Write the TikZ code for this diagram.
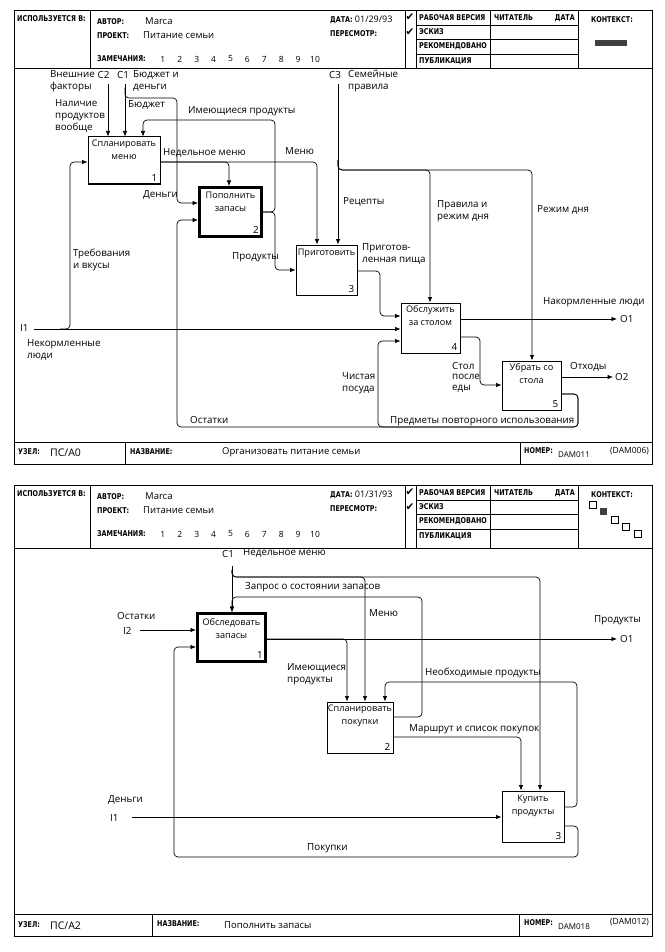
\documentclass[tikz,border=0pt]{standalone}
\usepackage{fontspec}
\setmainfont{Open Sans}
\newfontfamily\hdrfont[FakeStretch=0.8]{DejaVu Sans}
\newfontfamily\symfont{DejaVu Sans}
\usetikzlibrary{arrows.meta}
\tikzset{
  frm/.style={line width=0.8pt},
  box/.style={draw, line width=1pt, inner sep=0pt, fill=white},
  thickbox/.style={box, line width=3pt},
  conn/.style={line width=0.7pt, rounded corners=4pt},
  arr/.style={conn, -{Latex[length=5.5pt,width=4.5pt]}},
  lbl/.style={font=\fontsize{9.8}{12}\selectfont, inner sep=0pt, align=left, anchor=west},
  btxt/.style={font=\fontsize{9.1}{13}\selectfont, inner sep=0pt, align=center, anchor=north},
  bnum/.style={font=\fontsize{9.8}{10}\selectfont, inner sep=0pt, anchor=south east},
  hd/.style={font=\hdrfont\bfseries\fontsize{8}{9}\selectfont, inner sep=0pt, anchor=west},
  mt/.style={font=\fontsize{9.5}{11}\selectfont, inner sep=0pt, anchor=west},
  ck/.style={font=\symfont\fontsize{10.5}{11}\selectfont, inner sep=0pt, anchor=center},
}
% #1 top y, #2 name prefix, #3 date, #4 header height, #5 context drawing
\newcommand\FormHeader[5]{%
\begin{scope}[shift={(0,#1)}]
\draw[frm] (14,#4) -- (652,#4);
\foreach \xx in {90,405,416,490,578} {\draw[frm] (\xx,0) -- (\xx,#4);}
\foreach \yy in {15,29,44} {\draw[frm] (416,\yy) -- (578,\yy);}
\node[hd] (#2use) at (17,9) {ИСПОЛЬЗУЕТСЯ В:};
\node[hd] (#2avt) at (97,12) {АВТОР:};
\node[mt] (#2marca) at (145,11) {Marca};
\node[hd] (#2prj) at (97,26) {ПРОЕКТ:};
\node[mt] (#2pit) at (143,25) {Питание семьи};
\node[hd] (#2zam) at (97,49) {ЗАМЕЧАНИЯ:};
\foreach \i in {1,...,10} {\node[mt,anchor=center,font=\fontsize{8.5}{9}\selectfont] (#2n\i) at ({146+16.9*\i},49) {\i};}
\node[hd] (#2date) at (330,10) {ДАТА: {\normalfont\fontsize{9}{10}\selectfont #3}};
\node[hd] (#2rev) at (330,24) {ПЕРЕСМОТР:};
\node[ck] (#2ck1) at (410,7.5) {✔};
\node[ck] (#2ck2) at (410,22) {✔};
\node[hd] (#2s1) at (419,7.5) {РАБОЧАЯ ВЕРСИЯ};
\node[hd] (#2s2) at (419,22) {ЭСКИЗ};
\node[hd] (#2s3) at (419,36.5) {РЕКОМЕНДОВАНО};
\node[hd] (#2s4) at (419,51) {ПУБЛИКАЦИЯ};
\node[hd] (#2rd) at (494,8) {ЧИТАТЕЛЬ};
\node[hd,anchor=east] (#2rdd) at (575,8) {ДАТА};
\node[hd] (#2ctx) at (591,10) {КОНТЕКСТ:};
#5
\end{scope}}
\begin{document}
\begin{tikzpicture}[x=1pt,y=-1pt]
\useasboundingbox[fill=white] (0,0) rectangle (664,952);

%================ FORM 1 ================
\draw[frm] (14,10) rectangle (652,464);
\FormHeader{10}{fa}{01/29/93}{58}{\fill[black!75] (595,30) rectangle (627,36);}
\draw[frm] (14,442) -- (652,442);
\draw[frm] (125,442) -- (125,464);
\draw[frm] (520,442) -- (520,464);
\node[hd] (fau) at (18,452) {УЗЕЛ:};
\node[mt,font=\fontsize{10.5}{12}\selectfont] (fan) at (50,453) {ПС/А0};
\node[hd] (fat) at (130,452) {НАЗВАНИЕ:};
\node[mt] (fatt) at (222,452) {Организовать питание семьи};
\node[hd] (fanr) at (524,451) {НОМЕР:};
\node[mt,font=\fontsize{8}{9}\selectfont] (fad) at (558,455) {DAM011};
\node[mt,font=\fontsize{8.5}{9}\selectfont] (fac) at (610,451) {(DAM006)};

% boxes
\node[box, minimum width=72pt, minimum height=47pt] (b1) at (124,160.5) {};
\node[btxt] (b1t) at ([yshift=-3pt]b1.north) {Спланировать\\меню};
\node[bnum] (b1n) at ([shift={(-3pt,3pt)}]b1.south east) {1};
\node[thickbox, minimum width=62pt, minimum height=49pt] (b2) at (230.5,212) {};
\node[btxt] (b2t) at ([yshift=-6pt]b2.north) {Пополнить\\запасы};
\node[bnum] (b2n) at ([shift={(-4pt,4pt)}]b2.south east) {2};
\node[box, minimum width=61pt, minimum height=50pt] (b3) at (326.5,270) {};
\node[btxt] (b3t) at ([yshift=-4pt]b3.north) {Приготовить};
\node[bnum] (b3n) at ([shift={(-3pt,3pt)}]b3.south east) {3};
\node[box, minimum width=59pt, minimum height=50pt] (b4) at (430.5,328) {};
\node[btxt] (b4t) at ([yshift=-3pt]b4.north) {Обслужить\\за столом};
\node[bnum] (b4n) at ([shift={(-3pt,3pt)}]b4.south east) {4};
\node[box, minimum width=59pt, minimum height=49pt] (b5) at (531.5,385.5) {};
\node[btxt] (b5t) at ([yshift=-3pt]b5.north) {Убрать со\\стола};
\node[bnum] (b5n) at ([shift={(-3pt,3pt)}]b5.south east) {5};

% connectors
\draw[arr] (108,84) -- (b1.north -| 108,0);
\draw[arr] (125,84) -- (b1.north -| 125,0);
\draw[arr] (125,88) -- (125,98) -- (177,98) -- (177,203) -- (b2.west |- 0,203);
\draw[arr] (b2.east |- 0,212) -- (275,212) -- (275,120) -- (143,120) -- (b1.north -| 143,0);
\draw[arr] (b2.east |- 0,212) -- (275,212) -- (275,270) -- (b3.west |- 0,270);
\draw[arr] (b1.east |- 0,162) -- (229,162) -- (b2.north -| 229,0);
\draw[arr] (b1.east |- 0,162) -- (317,162) -- (b3.north -| 317,0);
\draw[arr] (338,84) -- (b3.north -| 338,0);
\draw[arr] (338,160) -- (338,170) -- (430,170) -- (b4.north -| 430,0);
\draw[arr] (338,160) -- (338,170) -- (532,170) -- (b5.north -| 532,0);
\draw[arr] (b3.east |- 0,271) -- (380,271) -- (380,316) -- (b4.west |- 0,316);
\draw[arr] (34,329) -- (b4.west |- 0,329);
\draw[arr] (60,329) -- (70,329) -- (70,162) -- (b1.west |- 0,162);
\draw[arr] (b4.east |- 0,319) -- (617,319);
\draw[arr] (b4.east |- 0,337) -- (480,337) -- (480,385) -- (b5.west |- 0,385);
\draw[arr] (b5.east |- 0,377) -- (613,377);
\draw[arr] (b5.east |- 0,394) -- (578,394) -- (578,427) -- (378,427) -- (378,341) -- (b4.west |- 0,341);
\draw[arr] (b5.east |- 0,394) -- (578,394) -- (578,427) -- (177,427) -- (177,220) -- (b2.west |- 0,220);

% labels
\node[lbl,anchor=east] (l1) at (95,81) {Внешние\\факторы};
\node[lbl] (l2) at (97.5,75) {C2};
\node[lbl] (l3) at (117,75) {C1};
\node[lbl] (l4) at (133,81) {Бюджет и\\деньги};
\node[lbl] (l5) at (55,116) {Наличие\\продуктов\\вообще};
\node[lbl] (l6) at (128,105) {Бюджет};
\node[lbl] (l7) at (188,111) {Имеющиеся продукты};
\node[lbl] (l8) at (163,153) {Недельное меню};
\node[lbl] (l9) at (285,151) {Меню};
\node[lbl] (l10) at (143,195) {Деньги};
\node[lbl] (l11) at (329,75) {C3};
\node[lbl] (l12) at (348,81) {Семейные\\правила};
\node[lbl] (l13) at (343,202) {Рецепты};
\node[lbl] (l14) at (437,211) {Правила и\\режим дня};
\node[lbl] (l15) at (537,210) {Режим дня};
\node[lbl] (l16) at (73,260) {Требования\\и вкусы};
\node[lbl] (l17) at (232,257) {Продукты};
\node[lbl] (l18) at (362,254) {Приготов-\\ленная пища};
\node[lbl] (l19) at (543,302) {Накормленные люди};
\node[lbl] (l20) at (620,319) {O1};
\node[lbl] (l21) at (20,328) {I1};
\node[lbl] (l22) at (27,350) {Некормленные\\люди};
\node[lbl,font=\fontsize{9.8}{10.5}\selectfont] (l23) at (452,377) {Стол\\после\\еды};
\node[lbl] (l24) at (342,383) {Чистая\\посуда};
\node[lbl] (l25) at (570,367) {Отходы};
\node[lbl] (l26) at (615,377) {O2};
\node[lbl] (l27) at (190,420) {Остатки};
\node[lbl] (l28) at (390,421) {Предметы повторного использования};

%================ FORM 2 ================
\draw[frm] (14,485) rectangle (652,936);
\FormHeader{485}{fb}{01/31/93}{63}{%
\draw[line width=0.6pt] (589,16) rectangle (596,23);
\fill[black!75] (600,23) rectangle (607,30);
\draw[line width=0.6pt] (611,31) rectangle (618,38);
\draw[line width=0.6pt] (622,38) rectangle (629,45);
\draw[line width=0.6pt] (634,45) rectangle (641,52);}
\draw[frm] (14,914) -- (652,914);
\draw[frm] (152,914) -- (152,936);
\draw[frm] (519,914) -- (519,936);
\node[hd] (fbu) at (18,925) {УЗЕЛ:};
\node[mt,font=\fontsize{10.5}{12}\selectfont] (fbn) at (50,926) {ПС/А2};
\node[hd] (fbt) at (157,924) {НАЗВАНИЕ:};
\node[mt] (fbtt) at (224,925) {Пополнить запасы};
\node[hd] (fbnr) at (524,923) {НОМЕР:};
\node[mt,font=\fontsize{8}{9}\selectfont] (fbd) at (558,927) {DAM018};
\node[mt,font=\fontsize{8.5}{9}\selectfont] (fbc) at (610,922) {(DAM012)};

% boxes
\node[thickbox, minimum width=68pt, minimum height=48pt] (d1) at (231.5,637.5) {};
\node[btxt] (d1t) at ([yshift=-6pt]d1.north) {Обследовать\\запасы};
\node[bnum] (d1n) at ([shift={(-4pt,4pt)}]d1.south east) {1};
\node[box, minimum width=66pt, minimum height=51pt] (d2) at (360,727.5) {};
\node[btxt] (d2t) at ([yshift=-3pt]d2.north) {Спланировать\\покупки};
\node[bnum] (d2n) at ([shift={(-3pt,3pt)}]d2.south east) {2};
\node[box, minimum width=62pt, minimum height=51pt] (d3) at (533,816.5) {};
\node[btxt] (d3t) at ([yshift=-4pt]d3.north) {Купить\\продукты};
\node[bnum] (d3n) at ([shift={(-3pt,3pt)}]d3.south east) {3};

% connectors
\draw[arr] (232,566) -- (d1.north -| 232,0);
\draw[arr] (232,570) -- (232,577) -- (540,577) -- (d3.north -| 540,0);
\draw[arr] (232,570) -- (232,577) -- (365,577) -- (d2.north -| 365,0);
\draw[arr] (d2.east |- 0,717) -- (422,717) -- (422,597) -- (232,597) -- (d1.north -| 232,0);
\draw[arr] (140,630) -- (d1.west |- 0,630);
\draw[arr] (d3.east |- 0,826) -- (578,826) -- (578,857) -- (174,857) -- (174,647) -- (d1.west |- 0,647);
\draw[arr] (d1.east |- 0,639) -- (617,639);
\draw[arr] (d1.east |- 0,639) -- (347,639) -- (d2.north -| 347,0);
\draw[arr] (d3.east |- 0,807) -- (577,807) -- (577,682) -- (385,682) -- (d2.north -| 385,0);
\draw[arr] (d2.east |- 0,737) -- (521,737) -- (d3.north -| 521,0);
\draw[arr] (132,817) -- (d3.west |- 0,817);

% labels
\node[lbl] (m1) at (222,554) {C1};
\node[lbl] (m2) at (243,553) {Недельное меню};
\node[lbl] (m3) at (245,587) {Запрос о состоянии запасов};
\node[lbl] (m4) at (369,613) {Меню};
\node[lbl] (m5) at (117,616) {Остатки};
\node[lbl] (m6) at (123,631) {I2};
\node[lbl] (m7) at (594,620) {Продукты};
\node[lbl] (m8) at (620,639) {O1};
\node[lbl] (m9) at (287,674) {Имеющиеся\\продукты};
\node[lbl] (m10) at (425,673) {Необходимые продукты};
\node[lbl] (m11) at (409,729) {Маршрут и список покупок};
\node[lbl] (m12) at (108,800) {Деньги};
\node[lbl] (m13) at (110,818) {I1};
\node[lbl] (m14) at (307,848) {Покупки};
\end{tikzpicture}
\end{document}
